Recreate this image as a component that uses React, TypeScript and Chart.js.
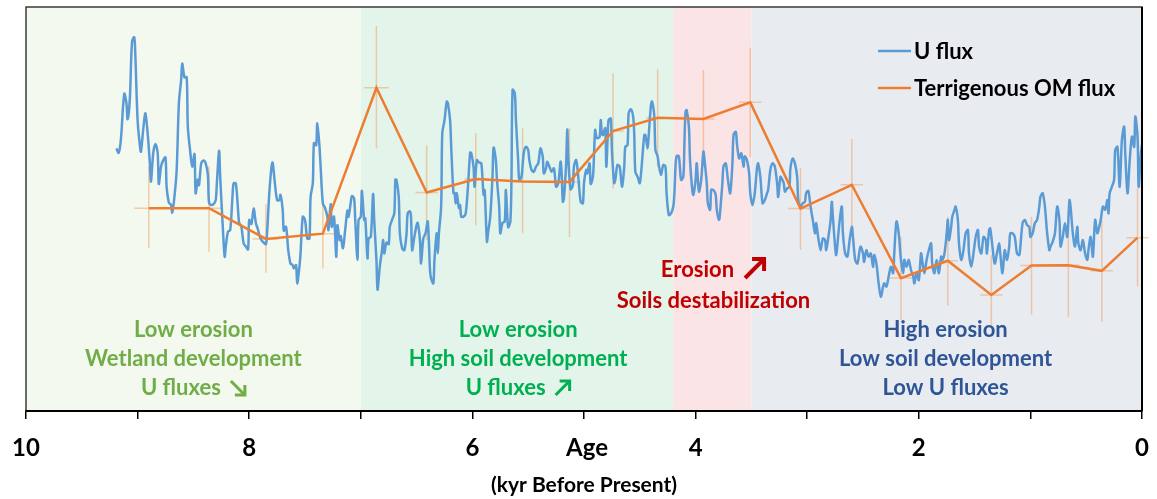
import React, { useEffect, useRef } from "react";
import { Chart, registerables } from "chart.js";

Chart.register(...registerables);

// ---------- DATA ----------
// Age axis, kyr Before Present
const ageTicks = [10, 9, 8, 7, 6, 5, 4, 3, 2, 1, 0];
const ageLabels = ["10", "", "8", "", "6", "", "4", "", "2", "", "0"];

// Period bands (kyr BP) and their colours
const bandEdges = [10, 7, 4.2, 3.5, 0];
const bandColors = ["#f3f9ee", "#e3f5eb", "#fbe4e5", "#e8ecf1"];

// U flux record (relative units)
const uAge = [
  9.19, 9.17, 9.15, 9.12, 9.1, 9.09, 9.07, 9.05, 9.03, 9.02, 9.0, 8.98, 8.97, 8.95, 8.93, 8.91, 8.89, 8.88, 8.86, 8.84,
  8.82, 8.81, 8.79, 8.77, 8.75, 8.74, 8.72, 8.7, 8.69, 8.67, 8.65, 8.63, 8.61, 8.6, 8.58, 8.56, 8.55, 8.53, 8.51, 8.49,
  8.48, 8.46, 8.45, 8.43, 8.41, 8.39, 8.37, 8.36, 8.34, 8.32, 8.3, 8.29, 8.27, 8.26, 8.24, 8.22, 8.21, 8.19, 8.17, 8.15,
  8.14, 8.12, 8.1, 8.09, 8.07, 8.05, 8.03, 8.01, 8.0, 7.98, 7.96, 7.94, 7.92, 7.91, 7.89, 7.87, 7.85, 7.84, 7.82, 7.8,
  7.79, 7.77, 7.75, 7.73, 7.72, 7.7, 7.69, 7.67, 7.65, 7.63, 7.61, 7.6, 7.58, 7.57, 7.55, 7.54, 7.52, 7.5, 7.48, 7.46,
  7.45, 7.43, 7.42, 7.4, 7.39, 7.37, 7.36, 7.34, 7.32, 7.3, 7.29, 7.27, 7.26, 7.24, 7.22, 7.21, 7.19, 7.18, 7.16, 7.14,
  7.12, 7.11, 7.09, 7.08, 7.06, 7.05, 7.03, 7.02,
  7.0, 6.99, 6.97, 6.96, 6.94, 6.93, 6.91, 6.89, 6.88, 6.86, 6.85, 6.83, 6.81, 6.8, 6.79, 6.77, 6.75, 6.74, 6.72, 6.7,
  6.69, 6.68, 6.66, 6.65, 6.63, 6.61, 6.59, 6.58, 6.56, 6.55, 6.54, 6.52, 6.5, 6.49, 6.47, 6.46, 6.44, 6.42, 6.4, 6.38,
  6.37, 6.35, 6.34, 6.32, 6.31, 6.3, 6.28, 6.27, 6.25, 6.23, 6.22, 6.2, 6.19, 6.17, 6.16, 6.15, 6.14, 6.12, 6.11, 6.1,
  6.08, 6.06, 6.04, 6.02, 6.01, 5.99, 5.98, 5.96, 5.94, 5.92, 5.9, 5.89, 5.87, 5.86, 5.84, 5.82, 5.81, 5.79, 5.78, 5.76,
  5.75, 5.73, 5.71, 5.7, 5.68, 5.66, 5.65, 5.64, 5.62, 5.61, 5.59, 5.58, 5.56, 5.54, 5.52, 5.5, 5.49, 5.47, 5.45, 5.43,
  5.41,
  5.39, 5.37, 5.36, 5.34, 5.33, 5.31, 5.29, 5.27, 5.26, 5.25, 5.23, 5.21, 5.2, 5.19, 5.18, 5.16, 5.15, 5.14, 5.12, 5.1,
  5.09, 5.07, 5.05, 5.03, 5.01, 5.0, 4.98, 4.97, 4.95, 4.94, 4.92, 4.91, 4.9, 4.89, 4.88, 4.86, 4.85, 4.84, 4.83, 4.81,
  4.8, 4.79, 4.78, 4.76, 4.75, 4.73, 4.72, 4.7, 4.68, 4.66, 4.64, 4.63, 4.61, 4.6, 4.58, 4.56, 4.55, 4.54, 4.52, 4.5,
  4.48, 4.46, 4.45, 4.43, 4.42, 4.4, 4.39, 4.37, 4.36, 4.34, 4.33, 4.31, 4.29, 4.27, 4.26, 4.24, 4.22, 4.2, 4.19, 4.18,
  4.17, 4.15, 4.13, 4.11, 4.1, 4.09, 4.08, 4.06, 4.05, 4.03, 4.02, 4.0, 3.99, 3.97, 3.95, 3.93, 3.92, 3.9, 3.89, 3.87,
  3.86, 3.84, 3.82, 3.81, 3.79,
  3.78, 3.76, 3.75, 3.73, 3.71, 3.69, 3.67, 3.66, 3.64, 3.63, 3.61, 3.59, 3.57, 3.56, 3.54, 3.52, 3.51, 3.49, 3.47, 3.45,
  3.44, 3.42, 3.4, 3.38, 3.36, 3.35, 3.33, 3.31, 3.29, 3.27, 3.26, 3.24, 3.23, 3.21, 3.2, 3.18, 3.16, 3.15, 3.13, 3.11,
  3.09, 3.08, 3.06, 3.04, 3.02, 3.01, 2.99, 2.97, 2.95, 2.93, 2.92, 2.9, 2.88, 2.86, 2.84, 2.83, 2.81, 2.79, 2.78, 2.77,
  2.75, 2.74, 2.72, 2.71, 2.69, 2.68, 2.66, 2.64, 2.62, 2.6, 2.59, 2.57, 2.55, 2.53,
  2.52, 2.5, 2.49, 2.47, 2.45, 2.43, 2.41, 2.4, 2.38, 2.36, 2.34, 2.32, 2.31, 2.29, 2.27, 2.25, 2.23, 2.22, 2.2, 2.18,
  2.16, 2.14, 2.13, 2.11, 2.09, 2.07, 2.05, 2.04, 2.02, 2.0, 1.98, 1.97, 1.95, 1.93, 1.91, 1.89, 1.88, 1.86, 1.84, 1.82,
  1.8, 1.79, 1.77, 1.75, 1.74, 1.73, 1.71, 1.7, 1.68, 1.67, 1.65, 1.64, 1.62, 1.6, 1.58, 1.56, 1.55, 1.53, 1.51, 1.49,
  1.47, 1.46, 1.44, 1.42, 1.4, 1.39, 1.37, 1.36, 1.34, 1.32, 1.3, 1.28, 1.27, 1.25, 1.23, 1.21, 1.19, 1.18,
  1.16, 1.14, 1.12, 1.1, 1.09, 1.07, 1.05, 1.03, 1.01, 1.0, 0.98, 0.96, 0.94, 0.92, 0.91, 0.89, 0.87, 0.85, 0.83, 0.82,
  0.8, 0.78, 0.76, 0.74, 0.73, 0.71, 0.69, 0.67, 0.65, 0.64, 0.62, 0.6, 0.58, 0.57, 0.55, 0.53, 0.51, 0.49, 0.48, 0.46,
  0.44, 0.42, 0.4, 0.39, 0.37, 0.35, 0.33, 0.31, 0.3, 0.29, 0.27, 0.25, 0.24, 0.22, 0.2, 0.18, 0.16, 0.15, 0.13, 0.11,
  0.09, 0.07, 0.06, 0.04, 0.03, 0.01, 0.0,
];
const uFlux = [
  65.0, 63.9, 67.1, 78.5, 76.2, 72.2, 77.0, 91.4, 92.5, 87.7, 72.0, 65.8, 64.2, 69.6, 73.7, 68.7, 61.3, 56.8, 63.8, 66.1,
  63.8, 56.2, 60.5, 62.1, 62.8, 55.5, 51.6, 51.0, 49.1, 53.0, 59.6, 76.2, 81.9, 86.0, 82.6, 82.6, 70.4, 64.6, 60.5, 63.6,
  53.9, 57.3, 55.9, 61.3, 62.0, 61.3, 58.4, 51.6, 51.0, 51.2, 52.2, 56.3, 64.4, 58.0, 47.3, 38.2, 40.7, 44.4, 44.8, 53.0,
  56.3, 56.3, 49.8, 46.6, 45.6, 41.5, 40.7, 40.0, 47.3, 46.3, 50.1, 46.5, 44.8, 43.6, 42.3, 41.7, 41.3, 44.0, 53.9, 60.5,
  61.5, 56.4, 52.2, 52.2, 53.5, 49.8, 44.6, 45.6, 39.8, 36.5, 36.1, 35.3, 36.1, 31.6, 35.7, 39.0, 48.1, 47.3, 42.7, 42.7,
  53.0, 56.4, 66.3, 65.8, 71.2, 65.4, 60.5, 51.4, 50.2, 48.1, 44.8, 51.2, 45.6, 48.1, 38.2, 46.0, 42.3, 43.3, 40.3, 44.8,
  49.6, 48.1, 51.6, 53.2, 52.6, 47.3, 37.4, 47.3,
  48.1, 54.5, 47.3, 47.7, 37.8, 42.7, 43.1, 53.7, 47.3, 37.4, 30.0, 35.7, 39.8, 42.3, 39.0, 41.7, 41.3, 45.6, 47.3, 48.9,
  57.3, 57.2, 53.0, 44.0, 40.3, 39.8, 44.0, 48.9, 49.4, 48.1, 39.8, 43.1, 46.0, 46.6, 42.3, 36.5, 42.7, 44.0, 46.9, 34.9,
  32.8, 31.6, 37.4, 44.0, 39.0, 44.0, 50.6, 68.7, 72.0, 76.6, 76.2, 72.0, 65.4, 53.9, 54.0, 51.4, 53.9, 50.2, 51.0, 48.1,
  48.1, 48.9, 55.5, 64.0, 63.8, 60.5, 55.5, 62.1, 61.5, 61.3, 53.5, 54.7, 41.9, 44.0, 48.1, 58.0, 65.2, 62.1, 57.2, 50.6,
  44.0, 46.6, 46.9, 54.7, 45.5, 46.9, 57.2, 79.5, 78.6, 72.0, 62.1, 57.2, 58.0, 63.8, 65.4, 64.6, 62.1, 59.7, 59.2, 60.5,
  61.3,
  65.0, 63.0, 58.8, 60.1, 61.7, 60.5, 59.2, 60.1, 58.0, 55.5, 56.4, 61.7, 58.8, 51.8, 52.6, 61.3, 69.7, 62.1, 54.9, 55.9,
  60.5, 62.1, 57.6, 51.8, 51.4, 56.4, 59.7, 58.8, 61.3, 56.2, 58.0, 63.8, 69.6, 67.9, 67.5, 67.9, 72.0, 68.7, 68.3, 70.0,
  60.5, 66.3, 72.0, 72.4, 64.6, 56.4, 57.2, 60.9, 60.5, 55.5, 60.1, 65.4, 65.8, 73.7, 74.7, 72.9, 68.7, 59.2, 58.0, 56.4,
  61.7, 68.3, 68.3, 65.0, 68.3, 75.7, 76.6, 72.9, 64.6, 63.0, 60.9, 58.4, 60.9, 60.5, 53.9, 48.5, 48.9, 50.6, 53.9, 60.5,
  63.1, 63.0, 57.2, 58.0, 66.6, 74.1, 74.5, 70.4, 62.1, 54.7, 53.5, 57.2, 61.3, 54.3, 57.2, 64.2, 62.1, 56.4, 51.4, 49.8,
  54.7, 54.7, 53.5, 49.8, 47.3,
  49.4, 56.4, 60.5, 61.3, 57.2, 53.9, 61.3, 68.3, 69.1, 66.3, 62.5, 63.8, 60.5, 63.0, 62.1, 58.8, 53.9, 51.0, 53.9, 60.1,
  61.3, 58.0, 51.4, 52.2, 53.9, 54.7, 59.7, 61.3, 60.5, 56.4, 53.0, 58.0, 57.6, 56.4, 54.3, 55.1, 55.5, 60.1, 62.5, 61.3,
  58.0, 52.2, 50.6, 51.4, 51.8, 53.9, 54.5, 50.6, 47.3, 44.0, 46.5, 42.7, 39.8, 42.7, 42.3, 39.8, 43.1, 47.3, 51.8, 48.1,
  40.7, 38.6, 44.0, 46.9, 50.6, 44.0, 39.0, 38.2, 42.3, 45.6, 43.1, 37.4, 36.5, 39.8,
  40.7, 39.0, 36.9, 39.8, 38.2, 39.0, 35.7, 38.6, 36.5, 31.6, 28.3, 30.8, 31.6, 30.8, 33.3, 35.7, 34.1, 39.0, 46.9, 44.0,
  37.4, 34.1, 37.4, 35.7, 37.4, 34.9, 33.3, 31.6, 34.1, 32.4, 39.0, 37.4, 34.1, 37.4, 39.8, 41.5, 36.5, 34.1, 37.4, 34.1,
  38.2, 37.4, 39.0, 44.0, 47.3, 42.3, 45.6, 48.1, 49.8, 50.6, 47.3, 41.5, 37.4, 39.8, 44.0, 44.8, 39.0, 35.7, 39.0, 43.1,
  44.8, 40.7, 39.0, 43.1, 42.3, 39.0, 44.8, 45.2, 40.7, 36.5, 39.0, 41.5, 39.0, 34.1, 39.8, 37.4, 40.7, 44.0,
  44.0, 43.1, 39.0, 38.6, 40.7, 46.5, 47.3, 46.0, 45.6, 43.1, 44.0, 46.5, 47.3, 50.6, 53.0, 53.9, 50.6, 44.0, 39.8, 40.7,
  41.9, 44.0, 50.6, 47.3, 40.7, 43.1, 46.5, 43.1, 52.2, 50.6, 44.0, 40.7, 45.6, 41.5, 39.8, 42.3, 39.0, 37.4, 39.8, 43.1,
  38.2, 47.3, 44.0, 44.8, 47.3, 50.6, 49.8, 52.2, 48.9, 53.9, 55.5, 57.2, 64.6, 65.4, 55.5, 67.1, 70.4, 63.8, 53.9, 62.1,
  67.9, 65.4, 72.9, 67.9, 55.5, 63.8, 66.0,
];

// Terrigenous OM flux (relative units) with errors
const omAge = [8.9, 8.36, 7.85, 7.34, 6.86, 6.41, 5.97, 5.55, 5.13, 4.74, 4.34, 3.93, 3.51, 3.06, 2.6, 2.16, 1.74, 1.35, 0.99, 0.66, 0.36, 0.04];
const omFlux = [50.2, 50.2, 42.6, 43.9, 80.0, 54.1, 57.4, 56.8, 56.7, 69.3, 72.6, 72.3, 76.4, 50.1, 56.0, 32.9, 37.2, 28.7, 36.0, 36.1, 34.7, 42.9];
const omFluxHigh = [60.5, 60.6, 51.2, 52.2, 95.3, 65.8, 68.8, 70.0, 70.0, 83.6, 84.6, 84.4, 89.9, 60.1, 67.3, 43.1, 48.1, 38.6, 48.1, 49.0, 47.3, 55.1];
const omFluxLow = [40.3, 39.4, 34.2, 35.3, 65.0, 42.3, 46.0, 44.0, 43.1, 55.1, 60.5, 60.5, 62.9, 39.9, 45.2, 22.5, 26.0, 21.3, 23.8, 23.3, 22.1, 30.8];
const omAgeErr = [0.13, 0.11, 0.12, 0.11, 0.11, 0.1, 0.1, 0.1, 0.1, 0.1, 0.1, 0.1, 0.1, 0.11, 0.1, 0.1, 0.09, 0.1, 0.1, 0.1, 0.1, 0.1];

const seriesNames = ["U flux", "Terrigenous OM flux"];
const seriesColors = ["#5b9bd5", "#ed7d31"];

// Text annotations: [lines], centre age, colour, arrow per line
const notes = [
  { age: 8.5, color: "#70ad47", lines: ["Low erosion", "Wetland development", "U fluxes"], arrows: [0, 0, 1] },
  { age: 5.59, color: "#00b050", lines: ["Low erosion", "High soil development", "U fluxes"], arrows: [0, 0, -1] },
  { age: 1.76, color: "#2f5597", lines: ["High erosion", "Low soil development", "Low U fluxes"], arrows: [0, 0, 0] },
];
const redNote = { age: 3.84, color: "#c00000", lines: ["Erosion", "Soils destabilization"] };

const FONT = "Lato, 'Open Sans', sans-serif";

function drawArrow(ctx: CanvasRenderingContext2D, x0: number, y0: number, x1: number, y1: number, head: number, lw: number, color: string) {
  ctx.save();
  ctx.strokeStyle = color;
  ctx.lineWidth = lw;
  ctx.lineCap = "butt";
  ctx.lineJoin = "miter";
  const ang = Math.atan2(y1 - y0, x1 - x0);
  ctx.beginPath();
  ctx.moveTo(x0, y0);
  ctx.lineTo(x1 - Math.cos(ang) * lw * 0.5, y1 - Math.sin(ang) * lw * 0.5);
  ctx.stroke();
  ctx.beginPath();
  const a1 = ang + Math.PI - Math.PI / 4;
  const a2 = ang + Math.PI + Math.PI / 4;
  ctx.moveTo(x1 + Math.cos(a1) * head, y1 + Math.sin(a1) * head);
  ctx.lineTo(x1, y1);
  ctx.lineTo(x1 + Math.cos(a2) * head, y1 + Math.sin(a2) * head);
  ctx.stroke();
  ctx.restore();
}

const decorPlugin = {
  id: "decor",
  beforeDraw(chart: any) {
    const { ctx, chartArea: ca, scales } = chart;
    const x = scales.x;
    ctx.save();
    for (let i = 0; i < bandColors.length; i++) {
      const p0 = x.getPixelForValue(bandEdges[i]);
      const p1 = x.getPixelForValue(bandEdges[i + 1]);
      ctx.fillStyle = bandColors[i];
      ctx.fillRect(Math.min(p0, p1), ca.top, Math.abs(p1 - p0), ca.bottom - ca.top);
    }
    ctx.restore();
  },
  beforeDatasetsDraw(chart: any) {
    const { ctx, scales } = chart;
    const x = scales.x;
    const y = scales.y;
    ctx.save();
    ctx.strokeStyle = "rgba(240,140,70,0.42)";
    ctx.lineWidth = 1.5;
    for (let i = 0; i < omAge.length; i++) {
      const px = x.getPixelForValue(omAge[i]);
      const py = y.getPixelForValue(omFlux[i]);
      ctx.beginPath();
      ctx.moveTo(px, y.getPixelForValue(omFluxHigh[i]));
      ctx.lineTo(px, y.getPixelForValue(omFluxLow[i]));
      ctx.moveTo(x.getPixelForValue(omAge[i] + omAgeErr[i]), py);
      ctx.lineTo(x.getPixelForValue(omAge[i] - omAgeErr[i]), py);
      ctx.stroke();
    }
    ctx.restore();
  },
  afterDraw(chart: any) {
    const { ctx, chartArea: ca, scales } = chart;
    const x = scales.x;
    ctx.save();
    // plot frame
    ctx.strokeStyle = "#3a3a3a";
    ctx.lineWidth = 1.5;
    ctx.strokeRect(ca.left, ca.top, ca.right - ca.left, ca.bottom - ca.top);
    ctx.strokeStyle = "#000";
    ctx.lineWidth = 2;
    ctx.beginPath();
    ctx.moveTo(ca.right, ca.top);
    ctx.lineTo(ca.right, ca.bottom);
    ctx.moveTo(ca.left, ca.bottom);
    ctx.lineTo(ca.right, ca.bottom);
    ctx.stroke();

    // annotations
    const lineYs = [330, 359, 388].map((v) => v - 7 + ca.top);
    ctx.textBaseline = "middle";
    ctx.font = `bold 22px ${FONT}`;
    for (const n of notes) {
      const cx = x.getPixelForValue(n.age);
      ctx.fillStyle = n.color;
      n.lines.forEach((t, k) => {
        const w = ctx.measureText(t).width;
        const arrowW = n.arrows[k] ? 25 : 0;
        const left = cx - (w + arrowW) / 2;
        ctx.textAlign = "left";
        ctx.fillText(t, left, lineYs[k]);
        if (n.arrows[k] === 1) {
          drawArrow(ctx, left + w + 10, lineYs[k] - 7, left + w + 24, lineYs[k] + 7, 10, 3, n.color);
        } else if (n.arrows[k] === -1) {
          drawArrow(ctx, left + w + 10, lineYs[k] + 7, left + w + 24, lineYs[k] - 7, 10, 3, n.color);
        }
      });
    }
    // red note
    {
      const cx = x.getPixelForValue(redNote.age);
      ctx.fillStyle = redNote.color;
      const y0 = 270 - 7 + ca.top;
      const y1 = 301 - 7 + ca.top;
      const w = ctx.measureText(redNote.lines[0]).width;
      const left = cx - (w + 32) / 2;
      ctx.textAlign = "left";
      ctx.fillText(redNote.lines[0], left, y0);
      drawArrow(ctx, left + w + 11, y0 + 8, left + w + 30, y0 - 11, 12, 4, redNote.color);
      ctx.textAlign = "center";
      ctx.fillText(redNote.lines[1], cx, y1);
    }

    // legend
    ctx.font = `bold 22px ${FONT}`;
    ctx.textAlign = "left";
    const legY = [51, 88];
    for (let i = 0; i < seriesNames.length; i++) {
      ctx.strokeStyle = seriesColors[i];
      ctx.lineWidth = 2.5;
      ctx.beginPath();
      ctx.moveTo(878, legY[i]);
      ctx.lineTo(911, legY[i]);
      ctx.stroke();
      ctx.fillStyle = "#000";
      ctx.fillText(seriesNames[i], 914, legY[i] + 1);
    }

    // "Age" label placed among tick labels
    ctx.font = `bold 24px ${FONT}`;
    ctx.textAlign = "center";
    ctx.fillStyle = "#000";
    ctx.fillText("Age", 587, x.top + 8 + 14.6 + 14.4);
    ctx.restore();
  },
};

export default function App() {
  const ref = useRef<HTMLCanvasElement | null>(null);
  useEffect(() => {
    if (!ref.current) return;
    const chart = new Chart(ref.current, {
      type: "line",
      data: {
        datasets: [
          {
            label: seriesNames[0],
            data: uAge.map((a, i) => ({ x: a, y: uFlux[i] })),
            borderColor: seriesColors[0],
            borderWidth: 2.5,
            pointRadius: 0,
            tension: 0.3,
            order: 2,
          },
          {
            label: seriesNames[1],
            data: omAge.map((a, i) => ({ x: a, y: omFlux[i] })),
            borderColor: seriesColors[1],
            borderWidth: 2.5,
            pointRadius: 0,
            tension: 0,
            order: 1,
          },
        ],
      },
      options: {
        responsive: false,
        animation: false,
        events: [],
        layout: { padding: { left: 26, right: 15, top: 7, bottom: 0 } },
        plugins: { legend: { display: false }, tooltip: { enabled: false } },
        scales: {
          x: {
            type: "linear",
            min: 0,
            max: 10,
            reverse: true,
            afterBuildTicks: (s: any) => {
              s.ticks = ageTicks.map((v) => ({ value: v }));
            },
            afterFit: (s: any) => {
              s.height = 88;
              s.paddingLeft = 0;
              s.paddingRight = 0;
            },
            ticks: {
              autoSkip: false,
              maxRotation: 0,
              padding: 14.6,
              color: "#000",
              font: { family: FONT, weight: "bold", size: 24 },
              callback: (v: any) => ageLabels[ageTicks.indexOf(Number(v))] ?? "",
            },
            grid: { drawOnChartArea: false, drawTicks: true, tickLength: 8, color: "#000", lineWidth: 1.5 },
            border: { display: true, color: "#000", width: 2 },
            title: {
              display: true,
              text: "(kyr Before Present)",
              color: "#000",
              font: { family: FONT, weight: "bold", size: 21 },
              padding: { top: 0, bottom: 1.5 },
            },
          },
          y: { type: "linear", min: 0, max: 100, display: false },
        },
      },
      plugins: [decorPlugin],
    });
    return () => chart.destroy();
  }, []);
  return (
    <div style={{ position: "absolute", left: 0, top: 0, width: 1157, height: 499, background: "#fff" }}>
      <canvas ref={ref} width={1157} height={499} style={{ display: "block" }} />
    </div>
  );
}
